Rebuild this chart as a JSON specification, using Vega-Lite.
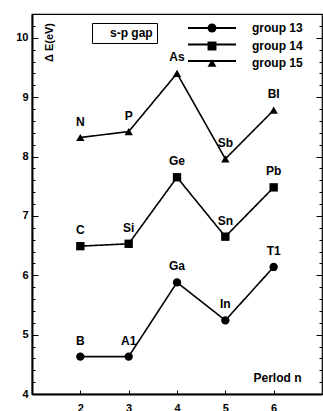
{
  "$schema": "https://vega.github.io/schema/vega-lite/v6.json",
  "width": 290,
  "height": 380,
  "autosize": {"type": "none"},
  "padding": {"left": 32, "top": 14, "right": 1, "bottom": 17},
  "background": "white",
  "config": {
    "font": "Liberation Sans",
    "view": {"stroke": "black", "strokeWidth": 1.2},
    "axis": {"labelFont": "Liberation Sans", "titleFont": "Liberation Sans", "labelColor": "black", "titleColor": "black", "tickColor": "black", "domainColor": "black", "grid": false}
  },
  "data": {
    "values": [
      {"group": "group 13", "period": 2, "element": "B", "dE": 4.63},
      {"group": "group 13", "period": 3, "element": "A1", "dE": 4.63},
      {"group": "group 13", "period": 4, "element": "Ga", "dE": 5.88},
      {"group": "group 13", "period": 5, "element": "In", "dE": 5.24},
      {"group": "group 13", "period": 6, "element": "T1", "dE": 6.14},
      {"group": "group 14", "period": 2, "element": "C", "dE": 6.49},
      {"group": "group 14", "period": 3, "element": "Si", "dE": 6.53},
      {"group": "group 14", "period": 4, "element": "Ge", "dE": 7.65},
      {"group": "group 14", "period": 5, "element": "Sn", "dE": 6.65},
      {"group": "group 14", "period": 6, "element": "Pb", "dE": 7.48},
      {"group": "group 15", "period": 2, "element": "N", "dE": 8.32},
      {"group": "group 15", "period": 3, "element": "P", "dE": 8.42},
      {"group": "group 15", "period": 4, "element": "As", "dE": 9.40},
      {"group": "group 15", "period": 5, "element": "Sb", "dE": 7.96},
      {"group": "group 15", "period": 6, "element": "BI", "dE": 8.78}
    ]
  },
  "layer": [
    {
      "mark": {"type": "line", "strokeWidth": 1.6},
      "encoding": {
        "x": {
          "field": "period", "type": "quantitative",
          "scale": {"domain": [1, 7], "nice": false, "zero": false},
          "axis": {
            "values": [2, 3, 4, 5, 6], "tickSize": -4, "labelPadding": 12,
            "labelFontSize": 11, "labelFontWeight": "bold", "domainWidth": 2,
            "title": "Perlod n", "titleFontSize": 12, "titleFontWeight": "bold",
            "titleX": 245, "titleY": -17, "titleAlign": "center", "titleBaseline": "middle"
          }
        },
        "y": {
          "field": "dE", "type": "quantitative",
          "scale": {"domain": [4, 10.4], "nice": false, "zero": false},
          "axis": {
            "orient": "left",
            "values": [4, 4.2, 4.4, 4.6, 4.8, 5, 5.2, 5.4, 5.6, 5.8, 6, 6.2, 6.4, 6.6, 6.8, 7, 7.2, 7.4, 7.6, 7.8, 8, 8.2, 8.4, 8.6, 8.8, 9, 9.2, 9.4, 9.6, 9.8, 10, 10.2, 10.4],
            "labelExpr": "abs(datum.value - round(datum.value)) < 0.01 ? format(datum.value, 'd') : ''",
            "tickSize": {"condition": {"test": "abs(datum.value - round(datum.value)) < 0.01", "value": -6}, "value": -3},
            "labelPadding": 10, "labelFontSize": 11, "labelFontWeight": "bold", "domainWidth": 2,
            "title": "Δ E(eV)", "titleFontSize": 11, "titleFontWeight": "bold",
            "titleX": 17, "titleY": 28, "titleAngle": -90, "titleAlign": "center", "titleBaseline": "middle"
          }
        },
        "strokeDash": {
          "field": "group", "type": "nominal",
          "scale": {"range": [[1, 0], [1, 0], [1, 0]]},
          "legend": {
            "title": null, "orient": "none", "legendX": 174, "legendY": 8,
            "padding": 0, "symbolSize": 64, "labelOffset": 34, "rowPadding": 4.5,
            "symbolType": "M-6,0H6", "symbolStrokeColor": "black", "symbolStrokeWidth": 1.8,
            "labelExpr": "' '",
            "labelFontSize": 12, "labelFontWeight": "bold", "labelColor": "transparent"
          }
        },
        "color": {
          "datum": "s-p gap",
          "scale": {"range": ["black"]},
          "legend": {
            "title": null, "orient": "none", "legendX": 60, "legendY": 9,
            "strokeColor": "black", "padding": 4,
            "symbolSize": 0, "symbolOpacity": 0, "labelOffset": 2,
            "labelFontSize": 12, "labelFontWeight": "bold", "labelColor": "black"
          }
        }
      }
    },
    {
      "mark": {"type": "point", "filled": true, "opacity": 1, "color": "black", "size": 70},
      "encoding": {
        "x": {"field": "period", "type": "quantitative"},
        "y": {
          "field": "dE", "type": "quantitative",
          "axis": {
            "orient": "right",
            "values": [4, 4.2, 4.4, 4.6, 4.8, 5, 5.2, 5.4, 5.6, 5.8, 6, 6.2, 6.4, 6.6, 6.8, 7, 7.2, 7.4, 7.6, 7.8, 8, 8.2, 8.4, 8.6, 8.8, 9, 9.2, 9.4, 9.6, 9.8, 10, 10.2, 10.4],
            "labels": false, "domain": false, "title": null,
            "tickSize": {"condition": {"test": "abs(datum.value - round(datum.value)) < 0.01", "value": -6}, "value": -3}
          }
        },
        "shape": {
          "field": "group", "type": "nominal",
          "scale": {"domain": ["group 13", "group 14", "group 15"], "range": ["circle", "square", "triangle-up"]},
          "legend": {
            "title": null, "orient": "none", "legendX": 174, "legendY": 8,
            "padding": 0, "symbolSize": 80, "labelOffset": 34, "rowPadding": 2,
            "symbolFillColor": "black", "symbolStrokeColor": "black",
            "labelFontSize": 12, "labelFontWeight": "bold", "labelColor": "black"
          }
        }
      }
    },
    {
      "mark": {"type": "text", "dy": -16, "fontSize": 12, "fontWeight": "bold", "color": "black"},
      "encoding": {
        "x": {"field": "period", "type": "quantitative"},
        "y": {"field": "dE", "type": "quantitative", "axis": null},
        "text": {"field": "element"}
      }
    }
  ],
  "resolve": {"axis": {"y": "independent"}}
}
